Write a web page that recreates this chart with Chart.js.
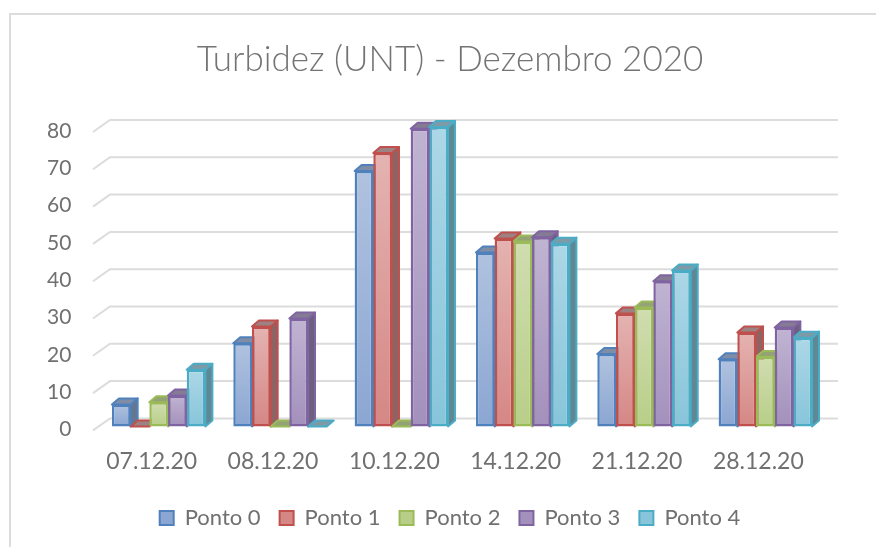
<!DOCTYPE html>
<html>
<head>
<meta charset="utf-8">
<style>
  html, body { margin: 0; padding: 0; background: #fff; overflow: hidden; }
  #frame { position: absolute; left: 9px; top: 13px; width: 867px; height: 534px; border-left: 2px solid #dcdcdc; border-top: 2px solid #dcdcdc; box-sizing: border-box; }
  canvas { position: absolute; left: 0; top: 0; }
</style>
<script src="https://cdn.jsdelivr.net/npm/chart.js@4"></script>
</head>
<body>
<div id="frame"></div>
<canvas id="myChart" width="876" height="547"></canvas>
<script>
const categories = ['07.12.20', '08.12.20', '10.12.20', '14.12.20', '21.12.20', '28.12.20'];
const ponto0 = [5.9, 22.3, 68.5, 46.6, 19.4, 18];
const ponto1 = [0, 26.8, 73.3, 50.4, 30.3, 25.2];
const ponto2 = [6.5, 0, 0, 49.6, 31.9, 18.6];
const ponto3 = [8.3, 28.9, 79.8, 50.7, 38.9, 26.5];
const ponto4 = [15.2, 0, 80.3, 49, 41.8, 23.8];
const names = ['Ponto 0', 'Ponto 1', 'Ponto 2', 'Ponto 3', 'Ponto 4'];
const series = [ponto0, ponto1, ponto2, ponto3, ponto4];

const borders = ['#4f81bd', '#c0504d', '#9bbb59', '#8064a2', '#4bacc6'];
const gradTop = ['#b0c2df', '#e4b3b1', '#d0ddb0', '#c0b4d2', '#acd7e6'];
const gradBottom = ['#8ba6d2', '#d58785', '#b8ce88', '#a390bc', '#88c5da'];
const sideColors = ['#66768f', '#8c6464', '#7d8f5c', '#6c6080', '#5f8794'];
const topColors = ['#7f8ea6', '#9c8282', '#93a374', '#857b95', '#7d9aa6'];

const DEPTH_X = 7, DEPTH_Y = 6;

function poly(ctx, pts, fill, stroke) {
  ctx.beginPath();
  pts.forEach((p, i) => i ? ctx.lineTo(p[0], p[1]) : ctx.moveTo(p[0], p[1]));
  ctx.closePath();
  ctx.fillStyle = fill;
  ctx.fill();
  ctx.strokeStyle = stroke;
  ctx.lineWidth = 2;
  ctx.lineJoin = 'round';
  ctx.stroke();
}

// back wall grid and the 3d side/top of every bar, fronts are left to the library
const depth3d = {
  id: 'depth3d',
  beforeDatasetsDraw(chart) {
    const { ctx, chartArea, scales } = chart;
    ctx.save();
    ctx.strokeStyle = '#dcdcdc';
    ctx.lineWidth = 2;
    scales.y.ticks.forEach(t => {
      const y = scales.y.getPixelForValue(t.value);
      ctx.beginPath();
      ctx.moveTo(chartArea.left - 5, y + 4);
      ctx.lineTo(chartArea.left + 12, y - 8);
      ctx.lineTo(chartArea.right + 12, y - 8);
      ctx.stroke();
    });
    categories.forEach((c, i) => {
      series.forEach((s, d) => {
        const bar = chart.getDatasetMeta(d).data[i];
        const half = bar.width / 2;
        const l = bar.x - half, r = bar.x + half, t = bar.y, b = bar.base;
        if (b - t > 0.5) {
          poly(ctx, [[r, t], [r + DEPTH_X, t - DEPTH_Y], [r + DEPTH_X, b - DEPTH_Y], [r, b]], sideColors[d], borders[d]);
        }
        poly(ctx, [[l, t], [l + DEPTH_X, t - DEPTH_Y], [r + DEPTH_X, t - DEPTH_Y], [r, t]], topColors[d], borders[d]);
      });
    });
    ctx.restore();
  }
};

new Chart(document.getElementById('myChart'), {
  type: 'bar',
  data: {
    labels: categories,
    datasets: series.map((s, d) => ({
      label: names[d],
      data: s,
      clip: false,
      borderColor: borders[d],
      borderWidth: 2.5,
      borderSkipped: false,
      backgroundColor(c) {
        const y = c.chart.scales.y;
        if (!y || c.raw === undefined) return gradBottom[d];
        const g = c.chart.ctx.createLinearGradient(0, y.getPixelForValue(c.raw), 0, y.getPixelForValue(0));
        g.addColorStop(0, gradTop[d]);
        g.addColorStop(1, gradBottom[d]);
        return g;
      }
    }))
  },
  options: {
    responsive: false,
    animation: false,
    layout: { padding: { left: 74, right: 50, top: 0, bottom: 8 } },
    datasets: { bar: { categoryPercentage: 0.77, barPercentage: 1 } },
    plugins: {
      title: {
        display: true,
        text: 'Turbidez (UNT) - Dezembro 2020',
        color: '#747474',
        font: { family: 'Lato', size: 35, weight: '300' },
        padding: { top: 39, bottom: 47 }
      },
      legend: {
        position: 'bottom',
        labels: {
          color: '#707070',
          font: { family: 'Lato', size: 22 },
          boxWidth: 14,
          boxHeight: 14,
          padding: 19,
          generateLabels() {
            return names.map((n, d) => ({
              text: n, datasetIndex: d,
              fillStyle: gradBottom[d], strokeStyle: borders[d], lineWidth: 2,
              fontColor: '#707070'
            }));
          }
        }
      },
      tooltip: { enabled: false }
    },
    scales: {
      x: {
        grid: { display: false },
        border: { display: false },
        ticks: { color: '#707070', font: { family: 'Lato', size: 23 }, labelOffset: -7, padding: 13, maxRotation: 0 }
      },
      y: {
        min: 0, max: 80,
        afterFit(scale) { scale.width = 24; },
        grid: { display: false },
        border: { display: false },
        // mirror so the labels are not clipped to the narrow axis box
        ticks: { stepSize: 10, color: '#707070', font: { family: 'Lato', size: 21 }, mirror: true, crossAlign: 'far', padding: -51, labelOffset: 3 }
      }
    }
  },
  plugins: [depth3d]
});
</script>
</body>
</html>
